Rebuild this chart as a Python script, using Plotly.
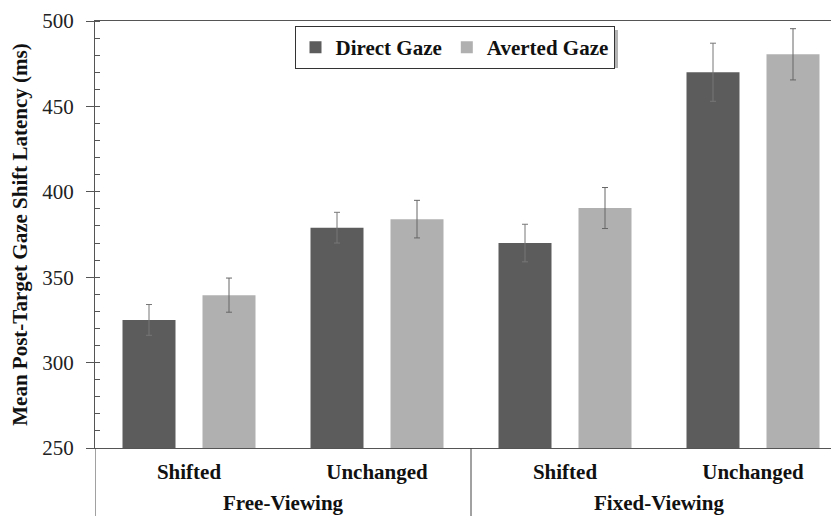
import plotly.graph_objects as go

# ---- data ----
viewing = ["Free-Viewing", "Free-Viewing", "Fixed-Viewing", "Fixed-Viewing"]
condition = ["Shifted", "Unchanged", "Shifted", "Unchanged"]
direct_gaze = [325, 379, 370, 470]
direct_err = [9, 9, 11, 17]
averted_gaze = [339.5, 384, 390.5, 480.5]
averted_err = [10, 11, 12, 15]
y_ticks = [250, 300, 350, 400, 450, 500]

FONT = "Liberation Serif, Times New Roman, serif"
W, H = 831, 517
L, R, T, B = 95, 0, 21, 69
pw, ph = W - L - R, H - T - B
CAT_PX = 188.0           # pixels per category

def px_x(p):
    return (p - L) / pw

def px_y(p):
    return (H - B - p) / ph

xpos = list(range(len(condition)))

fig = go.Figure()
fig.add_trace(go.Bar(
    name="Direct Gaze", x=xpos, y=direct_gaze,
    marker=dict(color="#5c5c5c", line=dict(width=0)),
    error_y=dict(type="data", array=direct_err, color="#777777", thickness=1, width=3),
))
fig.add_trace(go.Bar(
    name="Averted Gaze", x=xpos, y=averted_gaze,
    marker=dict(color="#b0b0b0", line=dict(width=0)),
    error_y=dict(type="data", array=averted_err, color="#666666", thickness=1, width=3),
))

# group labels and dividers (from the viewing list)
groups = []
for i, g in enumerate(viewing):
    if not groups or groups[-1][0] != g:
        groups.append([g, i, i])
    else:
        groups[-1][2] = i
edges = set()
for g, i0, i1 in groups:
    fig.add_annotation(text="<b>%s</b>" % g, x=(i0 + i1) / 2, xref="x",
                       y=0, yref="paper", yanchor="top", yshift=-42,
                       showarrow=False, borderpad=0,
                       font=dict(family=FONT, size=21, color="#111111"))
    edges.update([i0 - 0.5, i1 + 0.5])
x_max = -0.5 + pw / CAT_PX
for edge in sorted(edges):
    if edge < x_max:
        fig.add_shape(type="line", xref="x", yref="paper",
                      x0=edge, x1=edge, y0=0, y1=px_y(H - 1),
                      line=dict(color="#444444", width=1))

# legend shadow
fig.add_shape(type="rect", xref="paper", yref="paper",
              x0=px_x(298), x1=px_x(618), y0=px_y(68), y1=px_y(30),
              fillcolor="#b3b3b3", line=dict(width=0), layer="above")
# clean right edge (the reference is cropped there)
fig.add_shape(type="rect", xref="paper", yref="paper",
              x0=px_x(827.5), x1=1.0, y0=px_y(446.5), y1=px_y(23),
              fillcolor="white", line=dict(width=0), layer="above")

fig.update_layout(
    width=W, height=H,
    margin=dict(l=L, r=R, t=T, b=B, pad=0),
    paper_bgcolor="white", plot_bgcolor="white",
    barmode="group", bargap=0.149, bargroupgap=0.3375,
    font=dict(family=FONT, size=21, color="#222222"),
    legend=dict(orientation="h", x=px_x(454.5), xanchor="center",
                y=px_y(26), yanchor="top",
                bgcolor="white", bordercolor="#333333", borderwidth=1,
                font=dict(family=FONT, size=21, color="#111111", weight="bold"),
                itemwidth=30, tracegroupgap=0),
    showlegend=True,
)

fig.update_xaxes(
    range=[-0.5, x_max], tickvals=xpos, ticktext=condition,
    showline=True, linecolor="#555555", linewidth=1, mirror=True,
    ticks="", showgrid=False, zeroline=False,
    tickfont=dict(family=FONT, size=21, color="#111111", weight="bold"),
    ticklabelstandoff=5,
    automargin=False,
)
fig.update_yaxes(
    range=[250, 500], tickvals=y_ticks,
    showline=True, linecolor="#555555", linewidth=1,
    ticks="outside", ticklen=8, tickcolor="#555555",
    minor=dict(ticks="inside", dtick=10, ticklen=5, tickcolor="#555555", showgrid=False),
    showgrid=False, zeroline=False,
    tickfont=dict(family=FONT, size=21, color="#222222"),
    ticklabelstandoff=8,
    title=dict(text="Mean Post-Target Gaze Shift Latency (ms)",
               font=dict(family=FONT, size=21, color="#111111", weight="bold"),
               standoff=8),
    automargin=False,
)

fig.write_html(
    "out.html",
    config={"displayModeBar": False},
    post_script=("document.documentElement.style.overflow='hidden';"
                 "document.body.style.margin='0';"
                 "document.body.style.overflow='hidden';"),
)
